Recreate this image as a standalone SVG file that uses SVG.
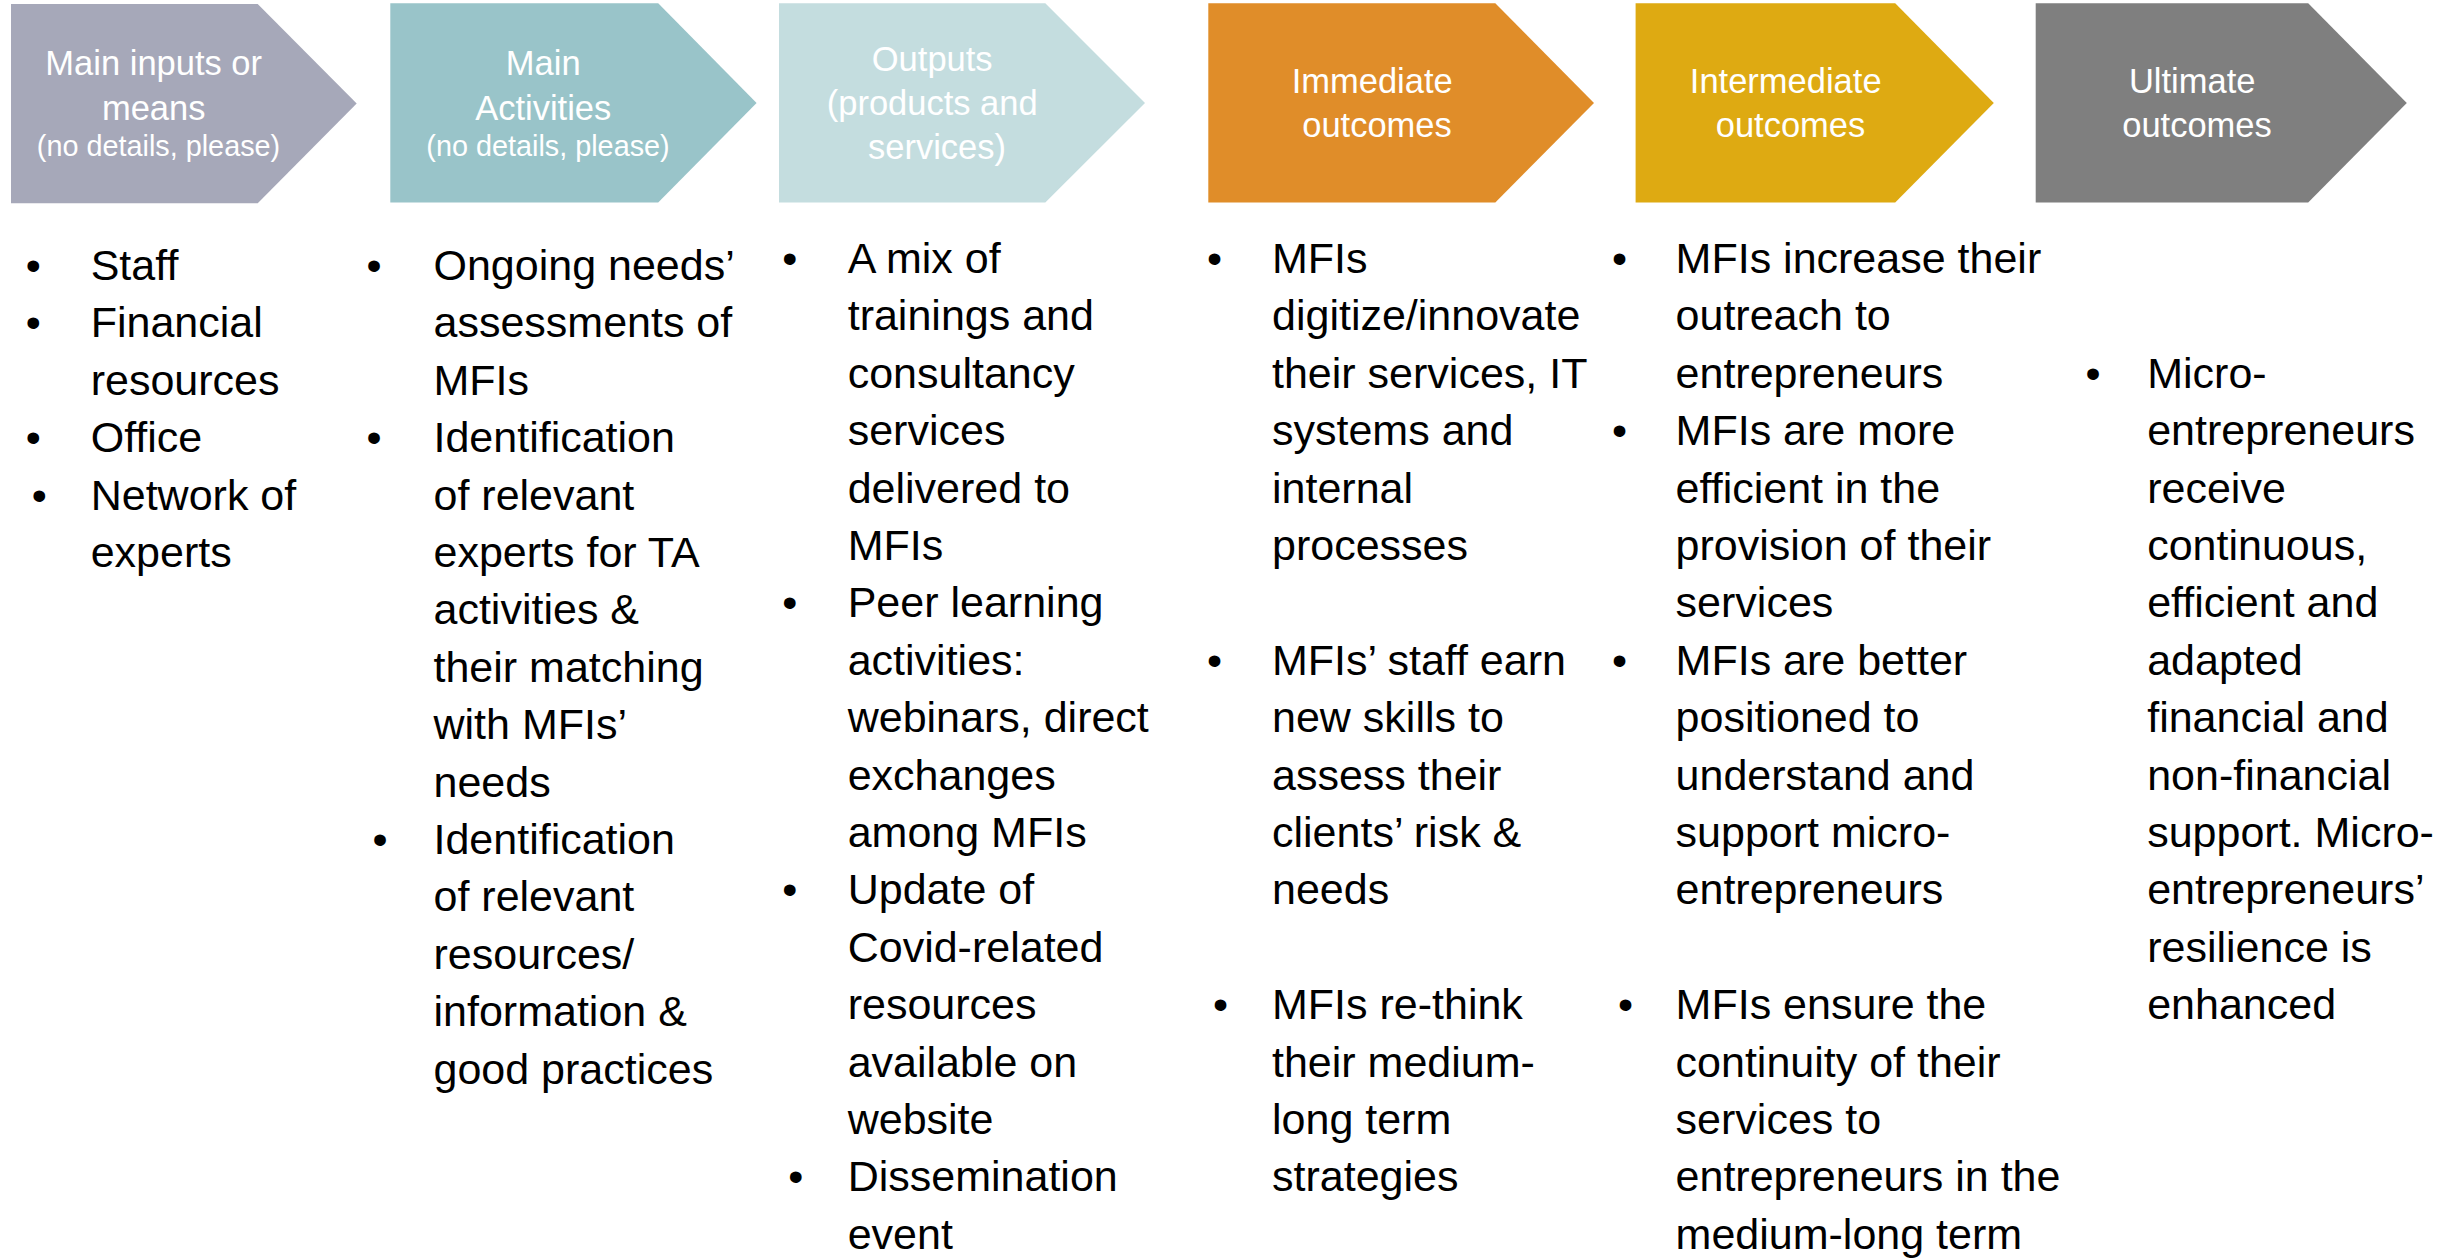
<svg xmlns="http://www.w3.org/2000/svg" width="2461" height="1259" viewBox="0 0 2461 1259">
  <style>
    text { font-family: "Liberation Sans", Arial, sans-serif; }
    .hdr { font-size: 34.5px; fill: #ffffff; text-anchor: middle; }
    .hdr .sm { font-size: 28.8px; }
    .body { font-size: 43px; fill: #000000; }
    .bul { font-size: 43px; fill: #000000; text-anchor: middle; }
  </style>
  <rect x="0" y="0" width="2461" height="1259" fill="#ffffff"/>

  <!-- header chevrons: results chain stages -->
  <g id="stage-inputs">
    <path d="M11,4 H257.7 L356.7,103.6 L257.7,203.3 H11 Z" fill="#A6A8B9"/>
    <text class="hdr">
      <tspan x="158.5" y="75">Main inputs or</tspan>
      <tspan x="158.5" y="120">means</tspan>
      <tspan class="sm" x="158.5" y="156">(no details, please)</tspan>
    </text>
  </g>
  <g id="stage-activities">
    <path d="M390.3,3.3 H658.2 L756.6,103 L658.2,202.5 H390.3 Z" fill="#99C4C9"/>
    <text class="hdr">
      <tspan x="548" y="75">Main</tspan>
      <tspan x="548" y="120">Activities</tspan>
      <tspan class="sm" x="548" y="156">(no details, please)</tspan>
    </text>
  </g>
  <g id="stage-outputs">
    <path d="M779,3.3 H1045.3 L1145,103 L1045.3,202.5 H779 Z" fill="#C4DDDF"/>
    <text class="hdr">
      <tspan x="937" y="71">Outputs</tspan>
      <tspan x="937" y="115">(products and</tspan>
      <tspan x="937" y="159.3">services)</tspan>
    </text>
  </g>
  <g id="stage-immediate">
    <path d="M1208.3,3.3 H1495.3 L1594,103 L1495.3,202.5 H1208.3 Z" fill="#E08D29"/>
    <text class="hdr">
      <tspan x="1377" y="92.7">Immediate</tspan>
      <tspan x="1377" y="137.3">outcomes</tspan>
    </text>
  </g>
  <g id="stage-intermediate">
    <path d="M1635.6,3.3 H1895.2 L1993.8,103 L1895.2,202.5 H1635.6 Z" fill="#DEAA12"/>
    <text class="hdr">
      <tspan x="1790.5" y="92.7">Intermediate</tspan>
      <tspan x="1790.5" y="137.3">outcomes</tspan>
    </text>
  </g>
  <g id="stage-ultimate">
    <path d="M2035.7,3.3 H2308.2 L2406.8,103 L2308.2,202.5 H2035.7 Z" fill="#7F7F7F"/>
    <text class="hdr">
      <tspan x="2197" y="92.7">Ultimate</tspan>
      <tspan x="2197" y="137.3">outcomes</tspan>
    </text>
  </g>

  <!-- bullet lists under each stage -->
  <g id="list-inputs">
    <text class="bul">
      <tspan x="39.3" y="280">•</tspan>
      <tspan x="39.3" y="337.4">•</tspan>
      <tspan x="39.3" y="452.2">•</tspan>
      <tspan x="39.3" y="509.6">•</tspan>
    </text>
    <text class="body">
      <tspan x="90.7" y="280">Staff</tspan>
      <tspan x="90.7" dy="57.4">Financial</tspan>
      <tspan x="90.7" dy="57.4">resources</tspan>
      <tspan x="90.7" dy="57.4">Office</tspan>
      <tspan x="90.7" dy="57.4">Network of</tspan>
      <tspan x="90.7" dy="57.4">experts</tspan>
    </text>
  </g>

  <g id="list-activities">
    <text class="bul">
      <tspan x="380" y="280">•</tspan>
      <tspan x="380" y="452.2">•</tspan>
      <tspan x="380" y="854">•</tspan>
    </text>
    <text class="body">
      <tspan x="433.5" y="280">Ongoing needs’</tspan>
      <tspan x="433.5" dy="57.4">assessments of</tspan>
      <tspan x="433.5" dy="57.4">MFIs</tspan>
      <tspan x="433.5" dy="57.4">Identification</tspan>
      <tspan x="433.5" dy="57.4">of relevant</tspan>
      <tspan x="433.5" dy="57.4">experts for TA</tspan>
      <tspan x="433.5" dy="57.4">activities &amp;</tspan>
      <tspan x="433.5" dy="57.4">their matching</tspan>
      <tspan x="433.5" dy="57.4">with MFIs’</tspan>
      <tspan x="433.5" dy="57.4">needs</tspan>
      <tspan x="433.5" dy="57.4">Identification</tspan>
      <tspan x="433.5" dy="57.4">of relevant</tspan>
      <tspan x="433.5" dy="57.4">resources/</tspan>
      <tspan x="433.5" dy="57.4">information &amp;</tspan>
      <tspan x="433.5" dy="57.4">good practices</tspan>
    </text>
  </g>

  <g id="list-outputs">
    <text class="bul">
      <tspan x="795.7" y="273">•</tspan>
      <tspan x="795.7" y="617.4">•</tspan>
      <tspan x="795.7" y="904.4">•</tspan>
      <tspan x="795.7" y="1191.4">•</tspan>
    </text>
    <text class="body">
      <tspan x="847.7" y="273">A mix of</tspan>
      <tspan x="847.7" dy="57.4">trainings and</tspan>
      <tspan x="847.7" dy="57.4">consultancy</tspan>
      <tspan x="847.7" dy="57.4">services</tspan>
      <tspan x="847.7" dy="57.4">delivered to</tspan>
      <tspan x="847.7" dy="57.4">MFIs</tspan>
      <tspan x="847.7" dy="57.4">Peer learning</tspan>
      <tspan x="847.7" dy="57.4">activities:</tspan>
      <tspan x="847.7" dy="57.4">webinars, direct</tspan>
      <tspan x="847.7" dy="57.4">exchanges</tspan>
      <tspan x="847.7" dy="57.4">among MFIs</tspan>
      <tspan x="847.7" dy="57.4">Update of</tspan>
      <tspan x="847.7" dy="57.4">Covid-related</tspan>
      <tspan x="847.7" dy="57.4">resources</tspan>
      <tspan x="847.7" dy="57.4">available on</tspan>
      <tspan x="847.7" dy="57.4">website</tspan>
      <tspan x="847.7" dy="57.4">Dissemination</tspan>
      <tspan x="847.7" dy="57.4">event</tspan>
    </text>
  </g>

  <g id="list-immediate">
    <text class="bul">
      <tspan x="1220.5" y="273">•</tspan>
      <tspan x="1220.5" y="674.8">•</tspan>
      <tspan x="1220.5" y="1019.2">•</tspan>
    </text>
    <text class="body">
      <tspan x="1272" y="273">MFIs</tspan>
      <tspan x="1272" dy="57.4">digitize/innovate</tspan>
      <tspan x="1272" dy="57.4">their services, IT</tspan>
      <tspan x="1272" dy="57.4">systems and</tspan>
      <tspan x="1272" dy="57.4">internal</tspan>
      <tspan x="1272" dy="57.4">processes</tspan>
      <tspan x="1272" dy="114.8">MFIs’ staff earn</tspan>
      <tspan x="1272" dy="57.4">new skills to</tspan>
      <tspan x="1272" dy="57.4">assess their</tspan>
      <tspan x="1272" dy="57.4">clients’ risk &amp;</tspan>
      <tspan x="1272" dy="57.4">needs</tspan>
      <tspan x="1272" dy="114.8">MFIs re-think</tspan>
      <tspan x="1272" dy="57.4">their medium-</tspan>
      <tspan x="1272" dy="57.4">long term</tspan>
      <tspan x="1272" dy="57.4">strategies</tspan>
    </text>
  </g>

  <g id="list-intermediate">
    <text class="bul">
      <tspan x="1625.5" y="273">•</tspan>
      <tspan x="1625.5" y="445.2">•</tspan>
      <tspan x="1625.5" y="674.8">•</tspan>
      <tspan x="1625.5" y="1019.2">•</tspan>
    </text>
    <text class="body">
      <tspan x="1675.6" y="273">MFIs increase their</tspan>
      <tspan x="1675.6" dy="57.4">outreach to</tspan>
      <tspan x="1675.6" dy="57.4">entrepreneurs</tspan>
      <tspan x="1675.6" dy="57.4">MFIs are more</tspan>
      <tspan x="1675.6" dy="57.4">efficient in the</tspan>
      <tspan x="1675.6" dy="57.4">provision of their</tspan>
      <tspan x="1675.6" dy="57.4">services</tspan>
      <tspan x="1675.6" dy="57.4">MFIs are better</tspan>
      <tspan x="1675.6" dy="57.4">positioned to</tspan>
      <tspan x="1675.6" dy="57.4">understand and</tspan>
      <tspan x="1675.6" dy="57.4">support micro-</tspan>
      <tspan x="1675.6" dy="57.4">entrepreneurs</tspan>
      <tspan x="1675.6" dy="114.8">MFIs ensure the</tspan>
      <tspan x="1675.6" dy="57.4">continuity of their</tspan>
      <tspan x="1675.6" dy="57.4">services to</tspan>
      <tspan x="1675.6" dy="57.4">entrepreneurs in the</tspan>
      <tspan x="1675.6" dy="57.4">medium-long term</tspan>
    </text>
  </g>

  <g id="list-ultimate">
    <text class="bul">
      <tspan x="2093" y="387.8">•</tspan>
    </text>
    <text class="body">
      <tspan x="2147.2" y="387.8">Micro-</tspan>
      <tspan x="2147.2" dy="57.4">entrepreneurs</tspan>
      <tspan x="2147.2" dy="57.4">receive</tspan>
      <tspan x="2147.2" dy="57.4">continuous,</tspan>
      <tspan x="2147.2" dy="57.4">efficient and</tspan>
      <tspan x="2147.2" dy="57.4">adapted</tspan>
      <tspan x="2147.2" dy="57.4">financial and</tspan>
      <tspan x="2147.2" dy="57.4">non-financial</tspan>
      <tspan x="2147.2" dy="57.4">support. Micro-</tspan>
      <tspan x="2147.2" dy="57.4">entrepreneurs’</tspan>
      <tspan x="2147.2" dy="57.4">resilience is</tspan>
      <tspan x="2147.2" dy="57.4">enhanced</tspan>
    </text>
  </g>
</svg>
